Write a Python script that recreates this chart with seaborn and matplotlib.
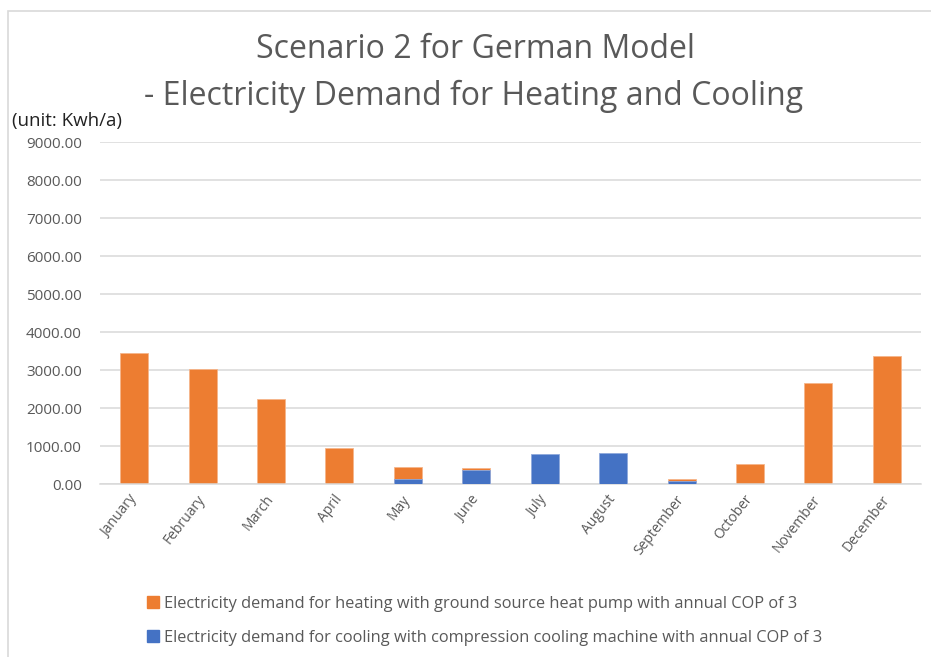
import matplotlib
matplotlib.use("Agg")
import matplotlib.pyplot as plt
import matplotlib.transforms as mtransforms
from matplotlib.patches import Rectangle
from matplotlib.lines import Line2D
import pandas as pd
import seaborn as sns

months = ["January", "February", "March", "April", "May", "June", "July",
          "August", "September", "October", "November", "December"]
heating = [3455, 3018, 2237, 939, 455, 413, 0, 0, 132, 535, 2649, 3377]
cooling = [0, 0, 0, 0, 132, 377, 781, 825, 88, 0, 0, 0]
heat_label = "Electricity demand for heating with ground source heat pump with annual COP of 3"
cool_label = "Electricity demand for cooling with compression cooling machine with annual COP of 3"

ORANGE = "#ED7D31"
BLUE = "#4472C4"
GREY = "#595959"

df = pd.DataFrame({"month": months, "heating": heating, "cooling": cooling})

sns.set_style("white")
plt.rcParams["font.family"] = ["Open Sans", "DejaVu Sans"]

fig = plt.figure(figsize=(9.31, 6.57), dpi=100)
W, H = 931, 657
ax = fig.add_axes([100 / W, 1 - 484 / H, 821 / W, 342 / H])

# cooling is drawn in front of heating (overlapping columns)
sns.barplot(data=df, x="month", y="heating", color=ORANGE, width=0.41,
            saturation=1, edgecolor="#f6b58a", linewidth=0.6, ax=ax, zorder=2)
sns.barplot(data=df, x="month", y="cooling", color=BLUE, width=0.41,
            saturation=1, edgecolor="#8fa9dc", linewidth=0.6, ax=ax, zorder=3)

ax.set_ylim(0, 9000)
ax.set_xlim(-0.5, 11.5)
ax.set_yticks(range(0, 9001, 1000))
ax.set_yticklabels([f"{v:.2f}" for v in range(0, 9001, 1000)])
ax.yaxis.grid(True, color="#d9d9d9", linewidth=1.1, zorder=0)
ax.set_axisbelow(True)
for s in ["top", "right", "left"]:
    ax.spines[s].set_visible(False)
ax.spines["bottom"].set_color("#d9d9d9")
ax.spines["bottom"].set_linewidth(1.1)
ax.tick_params(axis="y", length=0, pad=13, labelsize=11, labelcolor=GREY)
ax.tick_params(axis="x", length=0, pad=6, labelsize=10, labelcolor=GREY)
shift = mtransforms.ScaledTranslation(-6 / 100, 0, fig.dpi_scale_trans)
for lbl in ax.get_xticklabels():
    lbl.set_rotation(52)
    lbl.set_ha("right")
    lbl.set_rotation_mode("anchor")
    lbl.set_transform(lbl.get_transform() + shift)
ax.set_xlabel("")
ax.set_ylabel("")

fig.text(475 / W, 1 - 50 / H, "Scenario 2 for German Model", ha="center",
         va="center", fontsize=23, color=GREY)
fig.text(474 / W, 1 - 96 / H, "- Electricity Demand for Heating and Cooling",
         ha="center", va="center", fontsize=23, color=GREY)
fig.text(12 / W, 1 - 121 / H, "(unit: Kwh/a)", ha="left", va="center",
         fontsize=13.5, color="#222222")

handles = [Line2D([], [], marker="s", linestyle="", markersize=8, color=ORANGE),
           Line2D([], [], marker="s", linestyle="", markersize=8, color=BLUE)]
fig.legend(handles, [heat_label, cool_label], loc="upper left",
           bbox_to_anchor=(141 / W, 1 - 589 / H), frameon=False, fontsize=11.8,
           labelcolor=GREY, handlelength=0.7, handletextpad=0.3,
           labelspacing=1.1, borderaxespad=0)

# chart-area border
fig.patches.append(Rectangle((8 / W, -0.1), 1.2, 1 - 11 / H + 0.1,
                             transform=fig.transFigure, fill=False,
                             edgecolor="#d9d9d9", linewidth=1.2))

fig.savefig("out.png", dpi=100)
